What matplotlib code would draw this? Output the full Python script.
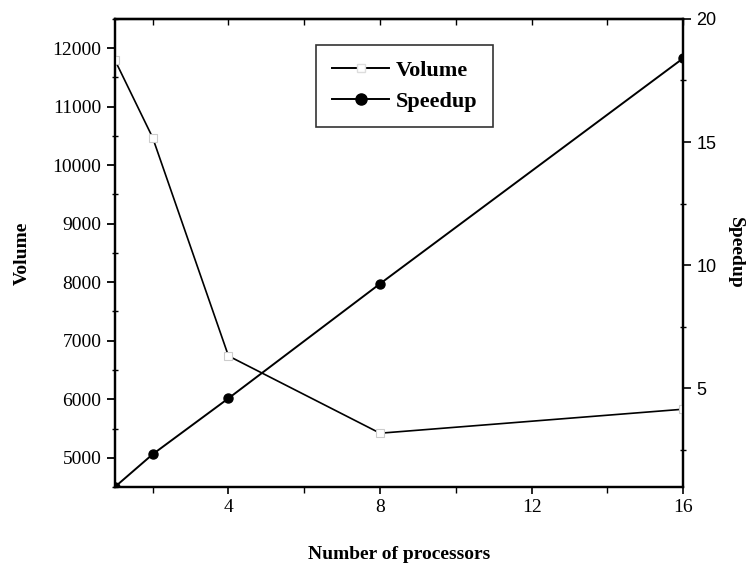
import matplotlib.pyplot as plt
from matplotlib.ticker import MultipleLocator
from matplotlib.lines import Line2D

# processor counts and measured results
processors = [1, 2, 4, 8, 16]
volume = [11800, 10470, 6740, 5420, 5830]
speedup = [1.0, 2.33, 4.6, 9.25, 18.4]

serif = 'Liberation Serif'

fig = plt.figure(figsize=(7.5, 5.69), dpi=100)
ax = fig.add_axes([0.153, 0.144, 0.758, 0.823])
ax2 = ax.twinx()

# volume: thin line with open squares
ax.plot(processors, volume, color='black', linewidth=1.2,
        marker='s', markersize=6, markerfacecolor='white',
        markeredgecolor='#cccccc', markeredgewidth=0.8, zorder=3)

# speedup: line with filled circles
ax2.plot(processors, speedup, color='black', linewidth=1.4,
         marker='o', markersize=6.5, markerfacecolor='black',
         markeredgecolor='black')

ax.set_xlim(1, 16)
ax.set_ylim(4500, 12500)
ax2.set_ylim(1, 20)

ax.set_xticks([4, 8, 12, 16])
ax.xaxis.set_minor_locator(MultipleLocator(2))
ax.set_yticks(range(5000, 12001, 1000))
ax.yaxis.set_minor_locator(MultipleLocator(500))
ax2.set_yticks([5, 10, 15, 20])
ax2.yaxis.set_minor_locator(MultipleLocator(2.5))

ax.tick_params(axis='x', which='both', direction='out', top=False)
ax.tick_params(axis='x', which='major', length=5, width=1.2)
ax.tick_params(axis='x', which='minor', length=4, width=1)
ax.tick_params(axis='y', which='major', direction='out', length=6, width=1.3)
ax.tick_params(axis='y', which='minor', direction='inout', length=4, width=1)
ax2.tick_params(axis='y', which='major', direction='out', length=6, width=1.2)
ax2.tick_params(axis='y', which='minor', direction='inout', length=4, width=1)

# inward minor ticks along the top spine
secx = ax.secondary_xaxis('top')
secx.set_xticks([])
secx.xaxis.set_minor_locator(MultipleLocator(2))
secx.tick_params(which='minor', direction='in', length=4, width=1)
secx.spines['top'].set_linewidth(1.6)

for spine in ax.spines.values():
    spine.set_linewidth(1.6)
for spine in ax2.spines.values():
    spine.set_linewidth(1.6)

for lbl in ax.get_xticklabels() + ax.get_yticklabels():
    lbl.set_fontfamily(serif)
    lbl.set_fontsize(14)
for lbl in ax2.get_yticklabels():
    lbl.set_fontfamily('Liberation Sans')
    lbl.set_fontsize(13)

ax.set_xlabel('Number of processors', fontfamily=serif, fontsize=14,
              fontweight='bold', labelpad=22)
ax.set_ylabel('Volume', fontfamily=serif, fontsize=14,
              fontweight='bold', labelpad=16)
ax2.set_ylabel('Speedup', fontfamily=serif, fontsize=14,
               fontweight='bold', rotation=-90, labelpad=20)

handles = [
    Line2D([], [], color='black', linewidth=1.4, marker='s', markersize=6,
           markerfacecolor='white', markeredgecolor='#dddddd'),
    Line2D([], [], color='black', linewidth=1.4, marker='o', markersize=8,
           markerfacecolor='black'),
]
leg = ax.legend(handles, ['Volume', 'Speedup'], loc='upper center',
                bbox_to_anchor=(0.51, 0.944), frameon=True, fancybox=False,
                edgecolor='black', handlelength=2.6, handletextpad=0.3,
                borderpad=0.7, labelspacing=0.45, borderaxespad=0,
                prop={'family': serif, 'size': 16, 'weight': 'bold'})
leg.get_frame().set_linewidth(1.2)

fig.savefig('out.png', dpi=100)
